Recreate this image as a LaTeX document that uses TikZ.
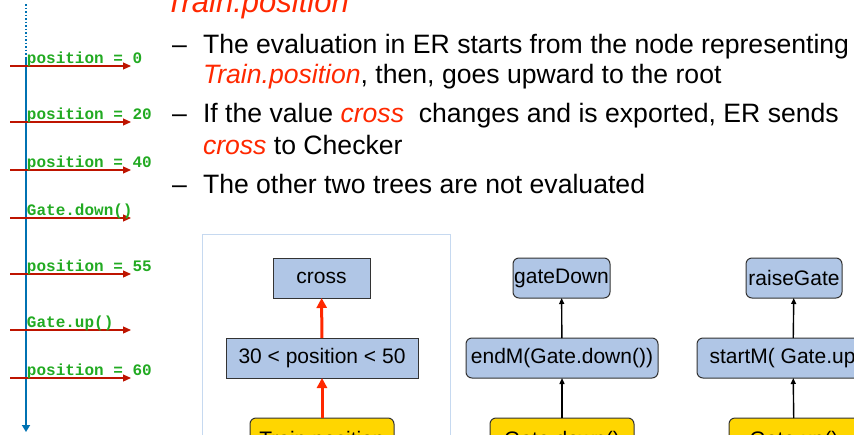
\documentclass[tikz,border=0pt]{standalone}
\usepackage{fontspec}
\setmainfont{Liberation Sans}
\newfontfamily\codefont{Liberation Mono}
\usetikzlibrary{arrows.meta}

\definecolor{lineblue}{RGB}{0,114,178}
\definecolor{eventred}{RGB}{190,20,0}
\definecolor{codegreen}{RGB}{34,170,34}
\definecolor{hotred}{RGB}{255,40,0}
\definecolor{boxblue}{RGB}{176,198,230}
\definecolor{leafyellow}{RGB}{255,214,0}
\definecolor{frameblue}{RGB}{198,217,240}
\newcommand{\hot}[1]{{\color{hotred}\itshape #1}}

\begin{document}
\begin{tikzpicture}[x=1pt, y=-1pt,
    inner sep=0pt, outer sep=0pt,
    event/.style={eventred, line width=1.2pt, -{Triangle[length=8pt,width=7pt]}},
    code/.style={codegreen, anchor=base west, font=\codefont\bfseries\fontsize{16}{16}\selectfont},
    bullet/.style={anchor=base west, font=\fontsize{26.6}{30}\selectfont},
    opbox/.style={draw=black!80, fill=boxblue, line width=1pt, minimum height=40pt,
        font=\fontsize{21}{24}\selectfont},
    leaf/.style={opbox, fill=leafyellow, rounded corners=6pt, minimum height=46pt},
    hotarrow/.style={hotred, line width=3pt, -{Triangle[length=10pt,width=10pt]}},
    plainarrow/.style={black, line width=1.4pt, -{Triangle[length=6pt,width=5pt]}},
]
    \useasboundingbox (0,0) rectangle (854,434);
    \clip (0,0) rectangle (854,434);

    % Time line
    \coordinate (ttop)   at (26,4);
    \coordinate (tstart) at (26,57);
    \coordinate (tend)   at (26,432);
    \draw[lineblue, line width=1.5pt, dotted] (ttop) -- (tstart);
    \draw[lineblue, line width=2pt, -{Triangle[length=7pt,width=8pt]}] (tstart) -- (tend);

    % Events
    \foreach \y/\txt [count=\i] in {66/{position = 0}, 122/{position = 20}, 170/{position = 40},
        218/{Gate.down()}, 274/{position = 55}, 330/{Gate.up()}, 378/{position = 60}} {
        \coordinate (e\i s) at (10,\y);
        \coordinate (e\i e) at (131,\y);
        \draw[event] (e\i s) -- (e\i e);
        \node[code] (lab\i) at (27,\y-3) {\txt};
    }

    % Title and bullets
    \node[anchor=base west, hotred, font=\itshape\fontsize{31}{31}\selectfont] (head) at (165,12) {Train.position};
    \node[bullet] (d1) at (172,53) {–};
    \node[bullet] (b1a) at (203,53) {The evaluation in ER starts from the node representing};
    \node[bullet] (b1b) at (203,83) {\hot{Train.position}, then, goes upward to the root};
    \node[bullet] (d2) at (172,122) {–};
    \node[bullet] (b2a) at (203,122) {If the value \hot{cross}\ \ changes and is exported, ER sends};
    \node[bullet] (b2b) at (203,154) {\hot{cross} to Checker};
    \node[bullet] (d3) at (172,193) {–};
    \node[bullet] (b3) at (203,193) {The other two trees are not evaluated};

    % Evaluated tree
    \draw[frameblue, line width=1pt] (202,234) rectangle (450,460);
    \node[opbox, minimum width=97pt] (cross) at (321.5,278) {cross};
    \node[opbox, minimum width=192pt] (range) at (322,358) {30 < position < 50};
    \node[leaf, minimum width=144pt] (train) at (322,441) {Train.position};
    \draw[hotarrow] (train) -- (range);
    \draw[hotarrow] (range) -- (cross);

    % Other trees
    \node[opbox, rounded corners=6pt, minimum width=97pt] (gdown) at (561.5,278) {gateDown};
    \node[opbox, rounded corners=6pt, minimum width=192pt] (endm) at (562,358) {endM(Gate.down())};
    \node[leaf, minimum width=144pt] (gatedown) at (562,441) {Gate.down()};
    \draw[plainarrow] (gatedown) -- (endm);
    \draw[plainarrow] (endm) -- (gdown);

    \node[opbox, rounded corners=6pt, minimum width=96pt] (raise) at (794,278) {raiseGate};
    \node[opbox, rounded corners=6pt, minimum width=192pt] (startm) at (793,358) {startM( Gate.up())};
    \node[leaf, minimum width=130pt] (gateup) at (794,441) {Gate.up()};
    \draw[plainarrow] (gateup) -- (startm);
    \draw[plainarrow] (startm) -- (raise);
\end{tikzpicture}
\end{document}
